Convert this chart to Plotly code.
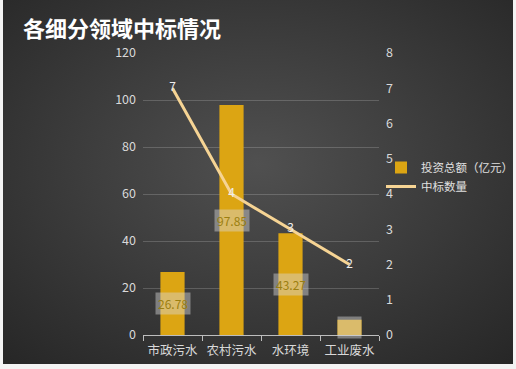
import plotly.graph_objects as go
import urllib.parse

categories = ["市政污水", "农村污水", "水环境", "工业废水"]
invest = [26.78, 97.85, 43.27, 6.5]
invest_labels = ["26.78", "97.85", "43.27", ""]
wins = [7, 4, 3, 2]
left_ticks = [0, 20, 40, 60, 80, 100, 120]
right_ticks = [0, 1, 2, 3, 4, 5, 6, 7, 8]

W, H = 516, 369
L, R, T, B = 143, 137, 53, 34
PW, PH = W - L - R, H - T - B

svg = (
    "<svg xmlns='http://www.w3.org/2000/svg' width='516' height='369'>"
    "<defs><radialGradient id='g' cx='50%' cy='45%' r='75%'>"
    "<stop offset='0%' stop-color='#505050'/>"
    "<stop offset='100%' stop-color='#262626'/>"
    "</radialGradient></defs>"
    "<rect x='0' y='0' width='516' height='369' fill='url(#g)'/></svg>"
)
src = "data:image/svg+xml;charset=utf-8," + urllib.parse.quote(svg)

fig = go.Figure()
fig.add_trace(go.Bar(
    x=categories, y=invest, name="投资总额（亿元）",
    marker=dict(color="#dca513", line=dict(width=0)),
    width=0.41, yaxis="y",
))
fig.add_trace(go.Scatter(
    x=categories, y=wins, name="中标数量", yaxis="y2",
    mode="lines+text", text=[str(v) for v in wins],
    textposition="middle center",
    textfont=dict(color="#eeeeee", size=12, family="Noto Sans CJK SC"),
    line=dict(color="#f6d494", width=3),
))

for c, v, t in zip(categories, invest, invest_labels):
    fig.add_annotation(
        x=c, y=v / 2, xref="x", yref="y",
        text=t if t else "&nbsp;&nbsp;&nbsp;&nbsp;&nbsp;&nbsp;&nbsp;",
        showarrow=False, bgcolor="rgba(215,215,215,0.45)",
        font=dict(color="#9c7f10", size=12, family="Noto Sans CJK SC"),
        borderpad=2,
    )

fig.add_annotation(
    x=(21 - L) / PW, y=(H - B - 27) / PH, xref="paper", yref="paper",
    text="<b>各细分领域中标情况</b>",
    showarrow=False, xanchor="left", yanchor="middle",
    font=dict(color="white", size=22, family="Noto Sans CJK SC"),
)

fig.update_layout(
    width=W, height=H,
    margin=dict(l=L, r=R, t=T, b=B, autoexpand=False),
    paper_bgcolor="#f3f3f3",
    plot_bgcolor="rgba(0,0,0,0)",
    images=[dict(source=src, xref="paper", yref="paper",
                 x=(3 - L) / PW, y=(H - B) / PH,
                 sizex=510 / PW, sizey=364 / PH,
                 xanchor="left", yanchor="top", sizing="stretch", layer="below")],
    font=dict(family="Noto Sans CJK SC", color="#d9d9d9", size=12),
    showlegend=True,
    legend=dict(x=(381 - L) / PW, y=(H - B - 153) / PH, xanchor="left", yanchor="top",
                bgcolor="rgba(0,0,0,0)", font=dict(color="#e0e0e0", size=11.5),
                tracegroupgap=0, itemwidth=30),
    bargap=0.59,
    xaxis=dict(showgrid=False, showline=True, linecolor="#bdbdbd", linewidth=1,
               ticks="outside", ticklen=5, tickcolor="#bdbdbd",
               tickson="boundaries", tickangle=0, ticklabelstandoff=4,
               tickfont=dict(color="#d9d9d9", size=12.5), range=[-0.5, 3.5]),
    yaxis=dict(range=[0, 120], tickvals=left_ticks, showgrid=True,
               gridcolor="rgba(255,255,255,0.18)", gridwidth=1,
               zeroline=False, showline=False,
               tickfont=dict(color="#d9d9d9", size=12.5), ticklabelstandoff=6),
    yaxis2=dict(range=[0, 8], tickvals=right_ticks, overlaying="y", side="right",
                showgrid=False, zeroline=False, showline=False,
                tickfont=dict(color="#d9d9d9", size=12.5), ticklabelstandoff=6),
)

fig.write_html("out.html")
